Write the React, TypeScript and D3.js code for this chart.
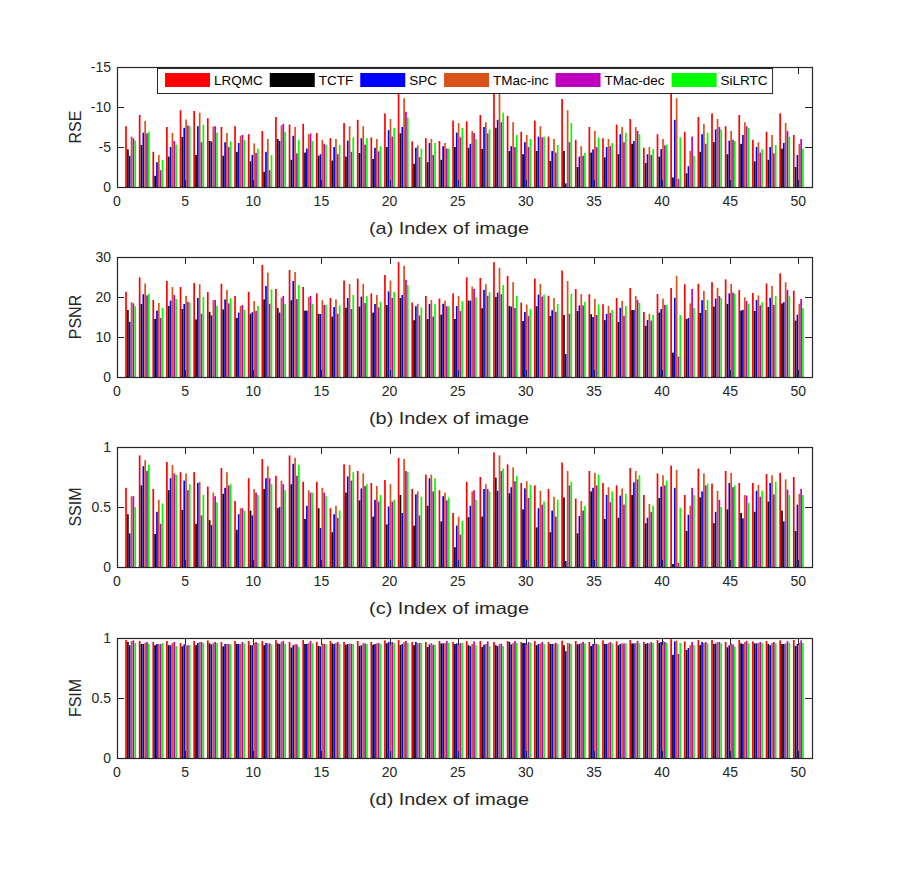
import { useEffect, useRef } from "react";
import * as d3 from "d3";

const methods = ["LRQMC", "TCTF", "SPC", "TMac-inc", "TMac-dec", "SiLRTC"];
const methodColors = ["#ff0000", "#000000", "#0000ff", "#d95319", "#bf00bf", "#00ff00"];
const imageIndex = d3.range(1, 51);
const xTicks = [0, 5, 10, 15, 20, 25, 30, 35, 40, 45, 50];

const rseTicks = [-15, -10, -5, 0];
const psnrTicks = [0, 10, 20, 30];
const ssimTicks = [0, 0.5, 1];
const fsimTicks = [0, 0.5, 1];

// RSE (axis is reversed, values are negative)
const rseLRQMC = [
  -7.6, -9.0, -4.4, -7.5, -9.6, -9.5, -8.6, -7.5, -7.6, -6.6,
  -7.0, -8.75, -7.8, -7.9, -6.75, -6.1, -8.0, -8.4, -6.2, -9.2,
  -13.0, -5.7, -6.1, -5.75, -8.3, -8.2, -9.0, -13.0, -8.9, -6.9,
  -8.3, -6.3, -11.0, -5.9, -7.5, -6.1, -7.8, -8.5, -4.9, -6.6,
  -13.0, -6.9, -8.75, -9.2, -7.6, -9.0, -5.9, -6.9, -9.2, -6.5,
];
const rseTCTF = [
  -4.7, -5.25, -1.4, -3.8, -6.25, -4.0, -5.75, -3.9, -4.4, -3.2,
  -1.9, -6.0, -3.4, -4.3, -3.9, -3.3, -3.8, -4.25, -3.5, -5.0,
  -6.7, -2.9, -3.1, -3.4, -5.0, -4.9, -4.75, -7.4, -4.5, -4.1,
  -4.5, -3.25, -4.5, -2.5, -4.3, -3.7, -4.1, -5.4, -3.0, -3.8,
  -1.2, -1.7, -4.4, -5.6, -4.1, -5.4, -3.2, -3.4, -4.8, -2.5,
];
const rseSPC = [
  -3.9, -6.8, -3.1, -5.0, -7.4, -7.6, -5.7, -5.6, -5.5, -4.0,
  -4.4, -5.75, -6.4, -4.8, -4.1, -5.0, -5.8, -6.1, -4.9, -7.1,
  -7.5, -4.9, -5.5, -5.1, -6.8, -5.4, -7.5, -8.4, -5.1, -5.6,
  -6.3, -4.5, -0.45, -3.8, -4.7, -5.0, -6.6, -5.75, -4.1, -4.75,
  -8.4, -2.6, -6.6, -7.2, -5.8, -6.5, -5.0, -5.0, -5.5, -4.0,
];
const rseTMacInc = [
  -6.3, -8.25, -4.0, -6.75, -8.45, -9.3, -7.55, -6.75, -6.4, -5.45,
  -6.0, -7.7, -7.5, -6.6, -5.9, -6.0, -7.6, -7.6, -6.0, -8.5,
  -11.1, -5.2, -6.0, -5.5, -8.0, -7.0, -8.1, -12.5, -8.1, -6.5,
  -7.6, -6.0, -9.6, -5.1, -7.0, -6.0, -7.5, -7.5, -5.0, -6.0,
  -11.1, -4.5, -7.9, -8.5, -7.0, -8.1, -5.6, -6.5, -8.0, -5.4,
];
const rseTMacDec = [
  -6.1, -6.7, -2.1, -5.75, -7.7, -5.6, -7.6, -5.0, -6.5, -4.25,
  -2.1, -7.9, -4.2, -6.7, -5.4, -4.1, -4.4, -5.3, -4.45, -6.3,
  -9.4, -3.75, -4.0, -4.8, -6.2, -6.75, -6.7, -8.1, -5.0, -5.0,
  -6.2, -4.3, -5.6, -3.9, -5.0, -5.1, -5.6, -7.0, -4.0, -5.2,
  -1.0, -6.3, -5.4, -7.5, -5.9, -7.6, -4.3, -4.2, -7.0, -6.0,
];
const rseSiLRTC = [
  -5.8, -6.9, -3.4, -5.3, -7.6, -7.8, -6.8, -5.7, -5.9, -4.8,
  -4.0, -6.9, -5.9, -5.75, -5.25, -5.25, -6.2, -6.1, -5.1, -7.4,
  -8.7, -4.8, -5.5, -4.8, -7.4, -6.0, -7.2, -9.3, -6.5, -6.0,
  -6.3, -5.25, -8.0, -4.25, -6.2, -5.5, -6.8, -6.6, -4.75, -5.3,
  -6.2, -3.9, -6.8, -7.2, -5.75, -7.4, -4.7, -5.25, -6.3, -4.8,
];

// PSNR
const psnrLRQMC = [
  21.3, 24.9, 19.25, 24.0, 22.5, 23.5, 21.25, 23.3, 20.25, 21.3,
  28.0, 22.0, 26.75, 22.5, 20.9, 19.75, 24.1, 24.6, 20.9, 25.5,
  28.7, 18.6, 20.25, 19.6, 20.9, 24.9, 24.75, 28.7, 25.25, 18.6,
  24.6, 20.3, 26.6, 22.0, 20.7, 18.2, 19.75, 22.25, 16.25, 20.75,
  22.25, 23.2, 23.3, 23.7, 24.4, 21.75, 21.0, 23.4, 25.9, 21.6,
];
const psnrTCTF = [
  16.75, 18.25, 14.5, 17.75, 17.0, 14.4, 16.3, 16.9, 14.75, 15.8,
  19.4, 17.25, 19.2, 16.6, 15.8, 15.1, 17.3, 17.6, 16.1, 18.0,
  19.75, 14.2, 14.5, 15.6, 14.5, 19.1, 17.2, 20.0, 17.75, 14.0,
  17.7, 15.25, 15.5, 16.5, 15.7, 14.2, 13.75, 16.75, 12.8, 16.1,
  6.1, 14.5, 16.0, 17.6, 18.25, 16.6, 16.5, 17.5, 18.4, 14.1,
];
const psnrSPC = [
  13.8, 20.7, 16.6, 19.1, 18.25, 19.75, 15.4, 19.4, 16.1, 16.2,
  22.75, 16.1, 24.0, 16.6, 15.75, 17.5, 19.75, 20.1, 18.25, 21.4,
  20.5, 17.7, 18.25, 18.3, 17.75, 19.1, 21.8, 21.1, 17.6, 16.25,
  20.6, 16.7, 5.75, 17.9, 15.0, 15.8, 17.3, 16.75, 14.25, 17.0,
  19.8, 14.75, 19.2, 19.6, 20.9, 16.8, 19.25, 19.8, 18.7, 15.6,
];
const psnrTMacInc = [
  18.7, 23.4, 18.5, 22.5, 20.3, 23.2, 19.2, 21.75, 17.75, 19.0,
  26.1, 19.8, 26.25, 20.0, 19.2, 19.4, 23.25, 23.25, 20.5, 24.1,
  27.8, 18.3, 19.25, 19.1, 20.25, 22.6, 23.2, 27.3, 23.7, 18.1,
  23.25, 19.75, 24.0, 20.7, 19.5, 17.8, 19.0, 20.25, 15.8, 19.6,
  25.3, 18.4, 21.5, 22.3, 23.25, 19.9, 20.4, 22.75, 23.7, 18.3,
];
const psnrTMacDec = [
  18.4, 20.4, 14.75, 20.5, 18.8, 15.8, 19.25, 18.4, 18.0, 16.5,
  18.3, 20.25, 19.5, 20.25, 18.0, 15.8, 17.0, 18.5, 17.4, 19.75,
  24.3, 15.4, 15.1, 17.7, 16.5, 22.0, 20.3, 20.7, 17.25, 15.25,
  20.1, 16.3, 15.8, 17.9, 15.5, 16.0, 15.3, 19.25, 14.1, 18.0,
  5.1, 22.0, 16.75, 20.25, 21.1, 19.0, 17.9, 18.0, 21.75, 19.5,
];
const psnrSiLRTC = [
  17.7, 20.8, 17.3, 19.5, 18.6, 20.0, 17.8, 19.7, 16.8, 17.75,
  21.9, 18.25, 23.0, 18.3, 18.0, 17.9, 20.5, 20.2, 18.75, 21.25,
  23.0, 17.4, 18.2, 17.7, 19.0, 19.9, 21.2, 23.0, 20.25, 17.0,
  20.6, 18.25, 20.8, 18.8, 18.1, 16.75, 17.75, 18.5, 15.5, 18.0,
  15.5, 17.25, 19.3, 19.75, 20.8, 18.3, 18.7, 20.25, 20.3, 17.25,
];

// SSIM
const ssimLRQMC = [
  0.66, 0.93, 0.65, 0.875, 0.79, 0.79, 0.67, 0.825, 0.55, 0.74,
  0.9, 0.76, 0.93, 0.71, 0.71, 0.49, 0.855, 0.8, 0.7, 0.725,
  0.91, 0.65, 0.77, 0.64, 0.45, 0.71, 0.75, 0.955, 0.855, 0.7,
  0.68, 0.65, 0.87, 0.57, 0.8, 0.7, 0.68, 0.825, 0.6, 0.78,
  0.845, 0.6, 0.82, 0.695, 0.8, 0.7, 0.7, 0.775, 0.785, 0.75,
];
const ssimTCTF = [
  0.44, 0.68, 0.275, 0.64, 0.475, 0.36, 0.39, 0.61, 0.31, 0.47,
  0.65, 0.49, 0.69, 0.4, 0.49, 0.29, 0.62, 0.555, 0.42, 0.355,
  0.6, 0.345, 0.51, 0.38, 0.165, 0.415, 0.42, 0.745, 0.615, 0.48,
  0.33, 0.29, 0.58, 0.28, 0.63, 0.4, 0.41, 0.6, 0.365, 0.575,
  0.025, 0.3, 0.58, 0.365, 0.48, 0.45, 0.46, 0.545, 0.47, 0.3,
];
const ssimSPC = [
  0.28, 0.84, 0.46, 0.74, 0.72, 0.7, 0.35, 0.66, 0.44, 0.43,
  0.74, 0.5, 0.86, 0.51, 0.325, 0.44, 0.755, 0.655, 0.56, 0.505,
  0.45, 0.605, 0.74, 0.59, 0.345, 0.51, 0.65, 0.635, 0.665, 0.655,
  0.49, 0.47, 0.05, 0.425, 0.66, 0.6, 0.595, 0.705, 0.41, 0.67,
  0.66, 0.435, 0.63, 0.46, 0.7, 0.405, 0.635, 0.7, 0.38, 0.52,
];
const ssimTMacInc = [
  0.59, 0.89, 0.56, 0.85, 0.78, 0.71, 0.62, 0.79, 0.49, 0.65,
  0.84, 0.72, 0.91, 0.64, 0.66, 0.51, 0.85, 0.78, 0.675, 0.69,
  0.9, 0.63, 0.77, 0.62, 0.42, 0.63, 0.69, 0.93, 0.83, 0.715,
  0.635, 0.585, 0.8, 0.55, 0.785, 0.665, 0.655, 0.8, 0.525, 0.765,
  0.81, 0.51, 0.78, 0.635, 0.785, 0.6, 0.685, 0.765, 0.73, 0.61,
];
const ssimTMacDec = [
  0.59, 0.8, 0.36, 0.78, 0.64, 0.43, 0.59, 0.68, 0.49, 0.62,
  0.74, 0.69, 0.76, 0.62, 0.62, 0.41, 0.72, 0.675, 0.545, 0.545,
  0.8, 0.43, 0.63, 0.555, 0.27, 0.64, 0.65, 0.8, 0.715, 0.575,
  0.52, 0.42, 0.68, 0.47, 0.68, 0.54, 0.52, 0.73, 0.46, 0.68,
  0.035, 0.66, 0.68, 0.56, 0.665, 0.595, 0.585, 0.605, 0.645, 0.65,
];
const ssimSiLRTC = [
  0.5, 0.85, 0.53, 0.77, 0.69, 0.6, 0.54, 0.69, 0.47, 0.6,
  0.69, 0.64, 0.85, 0.62, 0.59, 0.47, 0.79, 0.69, 0.6, 0.56,
  0.79, 0.585, 0.74, 0.58, 0.385, 0.56, 0.63, 0.82, 0.76, 0.685,
  0.545, 0.56, 0.71, 0.51, 0.77, 0.63, 0.61, 0.765, 0.51, 0.72,
  0.495, 0.6, 0.695, 0.5, 0.68, 0.535, 0.635, 0.71, 0.6, 0.6,
];

// FSIM
const fsimLRQMC = [
  0.983, 0.975, 0.967, 0.975, 0.958, 0.975, 0.98, 0.967, 0.975, 0.975,
  0.975, 0.983, 0.967, 0.983, 0.967, 0.975, 0.967, 0.975, 0.967, 0.98,
  0.983, 0.967, 0.967, 0.975, 0.967, 0.975, 0.975, 0.967, 0.975, 0.967,
  0.975, 0.967, 0.978, 0.975, 0.967, 0.98, 0.972, 0.983, 0.967, 0.983,
  0.99, 0.972, 0.983, 0.983, 0.967, 0.983, 0.972, 0.975, 0.98, 0.983,
];
const fsimTCTF = [
  0.967, 0.95, 0.94, 0.94, 0.93, 0.94, 0.955, 0.93, 0.95, 0.94,
  0.94, 0.955, 0.92, 0.95, 0.933, 0.955, 0.944, 0.933, 0.944, 0.955,
  0.94, 0.94, 0.925, 0.955, 0.95, 0.94, 0.925, 0.94, 0.967, 0.958,
  0.94, 0.95, 0.94, 0.947, 0.933, 0.95, 0.94, 0.955, 0.95, 0.96,
  0.86, 0.9, 0.94, 0.95, 0.922, 0.955, 0.955, 0.95, 0.95, 0.933,
];
const fsimSPC = [
  0.94, 0.95, 0.95, 0.94, 0.947, 0.958, 0.947, 0.95, 0.95, 0.94,
  0.958, 0.95, 0.94, 0.95, 0.93, 0.95, 0.95, 0.94, 0.95, 0.967,
  0.95, 0.967, 0.947, 0.955, 0.955, 0.933, 0.944, 0.933, 0.947, 0.958,
  0.95, 0.95, 0.89, 0.95, 0.95, 0.95, 0.95, 0.955, 0.958, 0.967,
  0.972, 0.917, 0.967, 0.955, 0.94, 0.95, 0.955, 0.94, 0.95, 0.95,
];
const fsimTMacInc = [
  0.975, 0.958, 0.95, 0.958, 0.94, 0.967, 0.96, 0.95, 0.95, 0.96,
  0.955, 0.967, 0.95, 0.958, 0.955, 0.958, 0.955, 0.958, 0.955, 0.967,
  0.967, 0.958, 0.958, 0.958, 0.95, 0.95, 0.95, 0.95, 0.958, 0.95,
  0.955, 0.953, 0.958, 0.958, 0.955, 0.958, 0.955, 0.958, 0.955, 0.975,
  0.98, 0.94, 0.958, 0.967, 0.955, 0.967, 0.958, 0.958, 0.955, 0.958,
];
const fsimTMacDec = [
  0.98, 0.967, 0.95, 0.967, 0.94, 0.967, 0.967, 0.95, 0.967, 0.967,
  0.955, 0.975, 0.947, 0.975, 0.95, 0.967, 0.95, 0.955, 0.958, 0.967,
  0.975, 0.958, 0.944, 0.975, 0.958, 0.972, 0.972, 0.953, 0.975, 0.967,
  0.967, 0.96, 0.955, 0.967, 0.95, 0.967, 0.955, 0.975, 0.967, 0.967,
  0.867, 0.967, 0.967, 0.967, 0.947, 0.975, 0.967, 0.967, 0.975, 0.98,
];
const fsimSiLRTC = [
  0.958, 0.95, 0.958, 0.933, 0.94, 0.958, 0.958, 0.947, 0.955, 0.958,
  0.947, 0.95, 0.925, 0.955, 0.95, 0.95, 0.95, 0.95, 0.95, 0.958,
  0.96, 0.96, 0.944, 0.96, 0.96, 0.94, 0.933, 0.933, 0.958, 0.96,
  0.95, 0.95, 0.95, 0.955, 0.944, 0.955, 0.955, 0.955, 0.958, 0.958,
  0.958, 0.94, 0.955, 0.955, 0.93, 0.958, 0.958, 0.955, 0.958, 0.958,
];

const panels = [
  {
    label: "RSE",
    caption: "(a) Index of image",
    domain: [0, -15],
    ticks: rseTicks,
    series: [rseLRQMC, rseTCTF, rseSPC, rseTMacInc, rseTMacDec, rseSiLRTC],
  },
  {
    label: "PSNR",
    caption: "(b) Index of image",
    domain: [0, 30],
    ticks: psnrTicks,
    series: [psnrLRQMC, psnrTCTF, psnrSPC, psnrTMacInc, psnrTMacDec, psnrSiLRTC],
  },
  {
    label: "SSIM",
    caption: "(c) Index of image",
    domain: [0, 1],
    ticks: ssimTicks,
    series: [ssimLRQMC, ssimTCTF, ssimSPC, ssimTMacInc, ssimTMacDec, ssimSiLRTC],
  },
  {
    label: "FSIM",
    caption: "(d) Index of image",
    domain: [0, 1],
    ticks: fsimTicks,
    series: [fsimLRQMC, fsimTCTF, fsimSPC, fsimTMacInc, fsimTMacDec, fsimSiLRTC],
  },
];

const FONT = '"Liberation Sans", Arial, Helvetica, sans-serif';
const AXIS = "#262626";

function drawChart(el: SVGSVGElement) {
  const svg = d3.select(el);
  svg.selectAll("*").remove();

  const left = 117;
  const right = 812;
  const panelHeight = 120;
  const panelTops = [67, 257, 447, 638];
  const tickLen = 7;

  const x = d3.scaleLinear().domain([0, 51]).range([left, right]);
  const slot = d3.scaleBand().domain(methods).range([-0.4, 0.4]).paddingInner(0.08);
  const barW = x(slot.bandwidth()) - x(0);

  panels.forEach((p, pi) => {
    const top = panelTops[pi];
    const bottom = top + panelHeight;
    const y = d3.scaleLinear().domain(p.domain).range([bottom, top]);
    const g = svg.append("g");

    // bars
    methods.forEach((m, mi) => {
      g.append("g")
        .attr("fill", methodColors[mi])
        .selectAll("rect")
        .data(p.series[mi])
        .join("rect")
        .attr("x", (d, i) => x(imageIndex[i] + (slot(m) as number)))
        .attr("width", barW)
        .attr("y", (d) => Math.min(y(0), y(d)))
        .attr("height", (d) => Math.abs(y(d) - y(0)));
    });

    // ticks (inside, mirrored)
    const ticks = g.append("g").attr("stroke", AXIS).attr("stroke-width", 1);
    xTicks.forEach((t) => {
      const xp = Math.round(x(t)) + 0.5;
      ticks.append("line").attr("x1", xp).attr("x2", xp).attr("y1", bottom).attr("y2", bottom - tickLen);
      ticks.append("line").attr("x1", xp).attr("x2", xp).attr("y1", top).attr("y2", top + tickLen);
    });
    p.ticks.forEach((t) => {
      const yp = Math.round(y(t)) + 0.5;
      ticks.append("line").attr("x1", left).attr("x2", left + tickLen).attr("y1", yp).attr("y2", yp);
      ticks.append("line").attr("x1", right).attr("x2", right - tickLen).attr("y1", yp).attr("y2", yp);
    });

    // frame
    g.append("rect")
      .attr("x", left + 0.5)
      .attr("y", top + 0.5)
      .attr("width", right - left)
      .attr("height", panelHeight)
      .attr("fill", "none")
      .attr("stroke", AXIS)
      .attr("stroke-width", 1.2);

    // tick labels
    const labels = g.append("g").attr("fill", AXIS).attr("font-family", FONT).attr("font-size", 14);
    xTicks.forEach((t) => {
      labels.append("text")
        .attr("x", x(t))
        .attr("y", bottom + 19)
        .attr("text-anchor", "middle")
        .text(String(t));
    });
    p.ticks.forEach((t) => {
      labels.append("text")
        .attr("x", left - 6)
        .attr("y", y(t))
        .attr("dy", "0.36em")
        .attr("text-anchor", "end")
        .text(String(t));
    });

    // axis titles
    labels.append("text")
      .attr("x", 449)
      .attr("y", bottom + 47)
      .attr("text-anchor", "middle")
      .attr("font-size", 17)
      .attr("textLength", 160)
      .attr("lengthAdjust", "spacingAndGlyphs")
      .text(p.caption);
    labels.append("text")
      .attr("transform", `translate(${81},${top + panelHeight / 2}) rotate(-90)`)
      .attr("text-anchor", "middle")
      .attr("font-size", 16)
      .text(p.label);
  });

  // legend over the first panel
  const legend = svg.append("g").attr("font-family", FONT).attr("font-size", 13.5);
  const box = legend.append("rect")
    .attr("x", 157.5)
    .attr("y", 68.5)
    .attr("height", 25)
    .attr("fill", "#ffffff")
    .attr("stroke", AXIS)
    .attr("stroke-width", 1);
  let cursor = 165;
  methods.forEach((m, mi) => {
    legend.append("rect")
      .attr("x", cursor)
      .attr("y", 73)
      .attr("width", 45)
      .attr("height", 14)
      .attr("fill", methodColors[mi]);
    const t = legend.append("text")
      .attr("x", cursor + 49)
      .attr("y", 85)
      .attr("fill", "#000000")
      .text(m);
    const w = (t.node() as SVGTextElement).getComputedTextLength();
    cursor += 49 + w + 7;
  });
  box.attr("width", cursor - 157.5 - 2);
}

export default function App() {
  const ref = useRef<SVGSVGElement>(null);
  useEffect(() => {
    if (ref.current) drawChart(ref.current);
  }, []);
  return (
    <svg
      ref={ref}
      width={899}
      height={872}
      style={{ position: "absolute", left: 0, top: 0, background: "#ffffff" }}
    />
  );
}
